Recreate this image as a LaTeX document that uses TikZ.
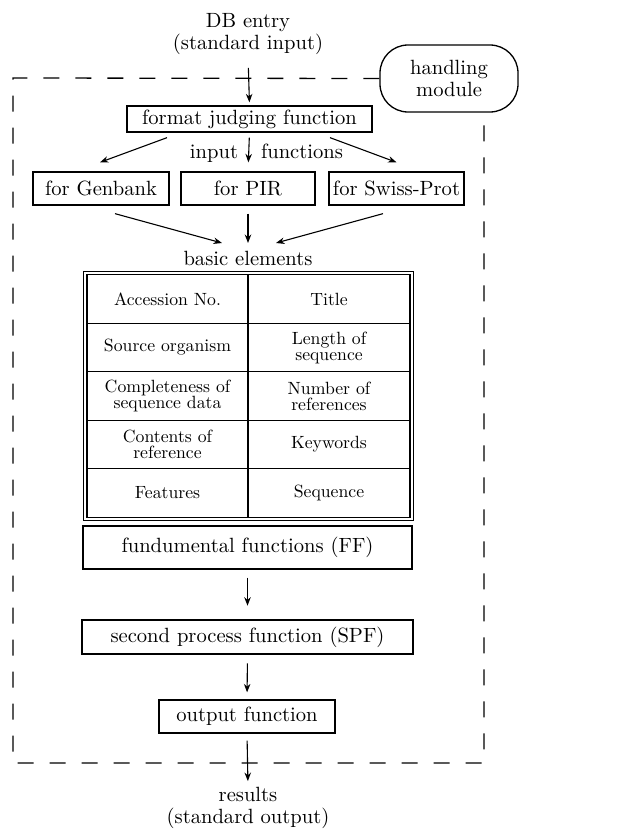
\documentclass[tikz,border=0pt]{standalone}
\usepackage{fontspec}
\setmainfont{lmroman10-regular.otf}
\usetikzlibrary{arrows.meta,fit,calc}
\begin{document}
\begin{tikzpicture}[x=1pt,y=1pt,
  txt/.style={font=\fontsize{20.6}{22}\selectfont, inner sep=0pt, align=center},
  box/.style={txt, draw, line width=1.3pt},
  cell/.style={draw, line width=1.3pt, inner sep=0pt, align=center,
     font=\fontsize{17.7}{16}\selectfont, minimum height=48.5pt},
  arr/.style={line width=1.1pt, -{Stealth[length=8.5pt,width=6.5pt]}},
  dsh/.style={line width=1.3pt, dash pattern=on 16pt off 16pt}]
\useasboundingbox (0,0) rectangle (616,-832);
% text nodes
\node[txt] (db) at (248,-34) {DB entry\\(standard input)};
\node[txt, draw, line width=1.3pt, rounded corners=28pt, minimum width=138pt, minimum height=67pt] (hm) at (449,-78.5) {handling\\module};
\node[box, minimum width=245pt, minimum height=26pt] (fj) at (249.5,-119) {format judging function};
\node[txt, anchor=base] (in) at (214,-158) {input};
\node[txt, anchor=base] (fn) at (302,-158) {functions};
\node[box, minimum width=136pt, minimum height=33pt] (gb) at (101,-188.5) {for Genbank};
\node[box, minimum width=134pt, minimum height=33pt] (pir) at (248,-188.5) {for PIR};
\node[box, minimum width=135pt, minimum height=33pt] (sp) at (396.5,-188.5) {for Swiss-Prot};
\node[txt, anchor=base] (be) at (248,-265) {basic elements};
% table cells
\node[cell, minimum width=161pt] (c11) at (167.5,-299) {Accession No.};
\node[cell, minimum width=162pt] (c12) at (329,-299) {Title};
\node[cell, minimum width=161pt] (c21) at (167.5,-347.5) {Source organism};
\node[cell, minimum width=162pt] (c22) at (329,-347.5) {Length of\\sequence};
\node[cell, minimum width=161pt] (c31) at (167.5,-396) {Completeness of\\sequence data};
\node[cell, minimum width=162pt] (c32) at (329,-396) {Number of\\references};
\node[cell, minimum width=161pt] (c41) at (167.5,-444.5) {Contents of\\reference};
\node[cell, minimum width=162pt] (c42) at (329,-444.5) {Keywords};
\node[cell, minimum width=161pt] (c51) at (167.5,-493) {Features};
\node[cell, minimum width=162pt] (c52) at (329,-493) {Sequence};
\node[draw, line width=1.3pt, inner sep=2.6pt, fit=(c11)(c52)] (tbl) {};
\node[box, minimum width=329pt, minimum height=43pt] (ff) at (247.5,-547.5) {fundumental functions (FF)};
\node[box, line width=2.6pt, minimum width=331pt, minimum height=34pt] (spf) at (247.5,-637) {second process function (SPF)};
\node[box, minimum width=176pt, minimum height=33pt] (out) at (247,-716.5) {output function};
\node[txt] (res) at (248,-808) {results\\(standard output)};
% dashed frame
\draw[dsh] (hm.west) -- (13,-78) -- (13,-763) -- (484,-763) -- (hm.south -| 484,0);
% arrows
\draw[arr, shorten <=13pt, shorten >=3pt] (db.south) -- (fj.north);
\draw[arr] ([xshift=-82.5pt,yshift=-5pt]fj.south) -- ([xshift=-1pt,yshift=9pt]gb.north);
\draw[arr, shorten <=5pt, shorten >=9pt] (fj.south) -- (pir.north);
\draw[arr] ([xshift=80.5pt,yshift=-5pt]fj.south) -- ([yshift=9pt]sp.north);
\draw[arr] ([xshift=14pt,yshift=-8pt]gb.south) -- ([xshift=-26pt,yshift=7.5pt]be.north);
\draw[arr, shorten <=8pt, shorten >=7.5pt] (pir.south) -- (be.north);
\draw[arr] ([xshift=-13.5pt,yshift=-8pt]sp.south) -- ([xshift=28pt,yshift=7.5pt]be.north);
\draw[arr, shorten <=8pt, shorten >=13pt] (ff.south) -- (spf.north);
\draw[arr, shorten <=8pt, shorten >=7pt] (spf.south) -- (out.north);
\draw[arr, shorten <=7pt, shorten >=6pt] (out.south) -- (res.north);
\end{tikzpicture}
\end{document}
